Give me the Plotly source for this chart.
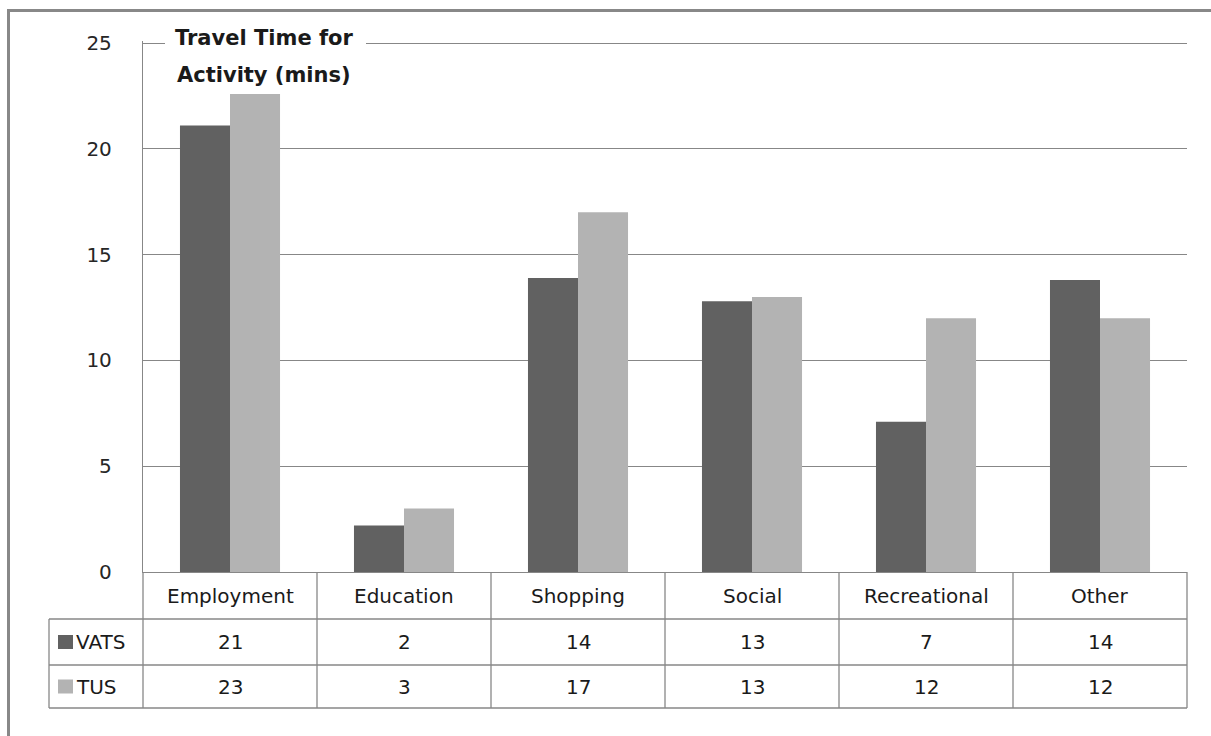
import plotly.graph_objects as go

categories = ["Employment", "Education", "Shopping", "Social", "Recreational", "Other"]
series_names = ["VATS", "TUS"]
vats = [21.1, 2.2, 13.9, 12.8, 7.1, 13.8]
tus = [22.6, 3.0, 17.0, 13.0, 12.0, 12.0]
y_ticks = [0, 5, 10, 15, 20, 25]
title_lines = ["Travel Time for", "Activity (mins)"]

DARK = "#616161"
LIGHT = "#b3b3b3"
GRID = "#878787"
TXT = "#1a1a1a"
FONT = "DejaVu Sans"

W, H = 1211, 736
L, R, T, B = 143, 1187, 41, 572
Y_TOP = 25.1


def px(x):
    return (x - L) / (R - L)


def py(y):
    return (B - y) / (B - T)


fig = go.Figure()
fig.add_trace(go.Bar(x=categories, y=vats, name=series_names[0], marker=dict(color=DARK, line=dict(width=0))))
fig.add_trace(go.Bar(x=categories, y=tus, name=series_names[1], marker=dict(color=LIGHT, line=dict(width=0))))

shapes = []
annotations = []

# outer frame (left and top)
shapes.append(dict(type="line", xref="paper", yref="paper", x0=px(8.5), x1=px(8.5), y0=py(9), y1=py(760),
                   line=dict(color="#888888", width=3)))
shapes.append(dict(type="line", xref="paper", yref="paper", x0=px(7), x1=px(1230), y0=py(10.5), y1=py(10.5),
                   line=dict(color="#888888", width=3)))

# title background box to break the top gridline
shapes.append(dict(type="rect", xref="paper", yref="paper", x0=px(165), x1=px(366), y0=py(30), y1=py(56),
                   fillcolor="white", line=dict(width=0), layer="above"))

# data table geometry
n = len(categories)
row_cat = (572, 619)
row_v = (619, 665)
row_t = (665, 708)
leg_left = 49

def hline(y, x0, x1):
    shapes.append(dict(type="line", xref="paper", yref="paper", x0=px(x0), x1=px(x1), y0=py(y), y1=py(y),
                       line=dict(color=GRID, width=1.3)))

def vline(x, y0, y1):
    shapes.append(dict(type="line", xref="paper", yref="paper", x0=x, x1=x, y0=py(y0), y1=py(y1),
                       line=dict(color=GRID, width=1.3)))

hline(row_cat[1], leg_left, R)
hline(row_v[1], leg_left, R)
hline(row_t[1], leg_left, R)
for i in range(n + 1):
    vline(i / n, row_cat[0], row_t[1])
vline(px(leg_left), row_v[0], row_t[1])

# category labels
for i, c in enumerate(categories):
    annotations.append(dict(xref="paper", yref="paper", x=(i + 0.5) / n, y=py(sum(row_cat) / 2),
                            text=c, showarrow=False, xanchor="center", yanchor="middle",
                            font=dict(family=FONT, size=20, color=TXT)))

# table values
for vals, row in ((vats, row_v), (tus, row_t)):
    for i, v in enumerate(vals):
        annotations.append(dict(xref="paper", yref="paper", x=(i + 0.5) / n, y=py(sum(row) / 2),
                                text=str(int(round(v))), showarrow=False, xanchor="center", yanchor="middle",
                                font=dict(family=FONT, size=20, color=TXT)))

# legend keys in table
for name, color, row in ((series_names[0], DARK, row_v), (series_names[1], LIGHT, row_t)):
    cy = sum(row) / 2
    shapes.append(dict(type="rect", xref="paper", yref="paper", x0=px(58), x1=px(73), y0=py(cy - 7), y1=py(cy + 7),
                       fillcolor=color, line=dict(width=0)))
    annotations.append(dict(xref="paper", yref="paper", x=px(74), y=py(cy), text=name, showarrow=False,
                            xanchor="left", yanchor="middle", font=dict(family=FONT, size=20, color=TXT)))

# title
for k, line in enumerate(title_lines):
    annotations.append(dict(xref="paper", yref="paper", x=px(264), y=py(38 + 37 * k), text="<b>%s</b>" % line,
                            showarrow=False, xanchor="center", yanchor="middle",
                            font=dict(family=FONT, size=21, color=TXT)))

fig.update_layout(
    width=W, height=H, autosize=False,
    margin=dict(l=L, r=W - R, t=T, b=H - B, pad=0),
    paper_bgcolor="white", plot_bgcolor="white",
    barmode="group", bargap=0.425, bargroupgap=0,
    showlegend=False,
    shapes=shapes, annotations=annotations,
    font=dict(family=FONT, size=20, color=TXT),
)
fig.update_xaxes(showticklabels=False, showgrid=False, showline=True, linecolor=GRID, linewidth=1.3,
                 ticks="", zeroline=False)
fig.update_yaxes(range=[0, Y_TOP], tickvals=y_ticks, showgrid=True, gridcolor=GRID, gridwidth=1.3,
                 showline=True, linecolor=GRID, linewidth=1.3, zeroline=False, ticks="",
                 ticklabelstandoff=26, tickfont=dict(family=FONT, size=20, color="#262626"))

fig.write_html("out.html", config={"displayModeBar": False},
               post_script="document.body.style.margin='0';document.body.style.overflow='hidden';")
